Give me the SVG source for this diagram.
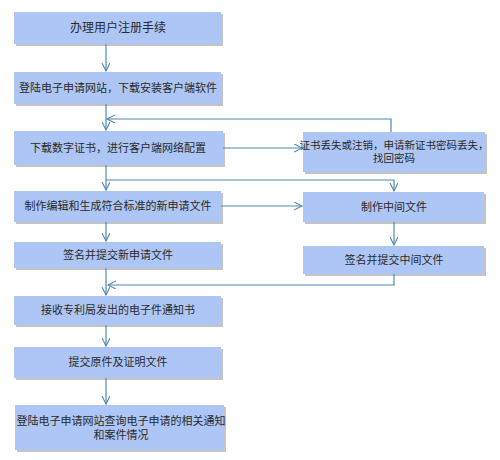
<svg xmlns="http://www.w3.org/2000/svg" width="500" height="460" viewBox="0 0 500 460">
<style>
.box{fill:#adc6f5}
.sh{fill:#c4c4c4}
.t{font-family:"Liberation Sans","Noto Sans CJK SC",sans-serif;font-size:11px;fill:#2a2a2a;text-anchor:middle}
.c{fill:none;stroke:#4f87b3;stroke-width:1.2}
</style>
<defs>
<marker id="a" markerWidth="10" markerHeight="10" refX="8" refY="4" orient="auto" markerUnits="userSpaceOnUse">
<path d="M0,0 L8,4 L0,8" fill="none" stroke="#4f87b3" stroke-width="1.1"/>
</marker>
</defs>
<rect width="500" height="460" fill="#fff"/>
<g id="n1"><rect class="sh" x="16" y="14" width="207" height="32"/><rect class="box" x="14" y="12" width="207" height="32"/><text class="t" x="118" y="32" style="font-size:12px">办理用户注册手续</text></g>
<g id="n2"><rect class="sh" x="16" y="74" width="207" height="32"/><rect class="box" x="14" y="72" width="207" height="32"/><text class="t" x="118" y="92">登陆电子申请网站，下载安装客户端软件</text></g>
<g id="n3"><rect class="sh" x="16" y="133" width="209" height="34"/><rect class="box" x="14" y="131" width="209" height="34"/><text class="t" x="118" y="152">下载数字证书，进行客户端网络配置</text></g>
<g id="n4"><rect class="sh" x="16" y="193" width="207" height="31"/><rect class="box" x="14" y="191" width="207" height="31"/><text class="t" x="118" y="210">制作编辑和生成符合标准的新申请文件</text></g>
<g id="n5"><rect class="sh" x="16" y="244" width="207" height="26"/><rect class="box" x="14" y="242" width="207" height="26"/><text class="t" x="118" y="259">签名并提交新申请文件</text></g>
<g id="n6"><rect class="sh" x="16" y="298" width="207" height="29"/><rect class="box" x="14" y="296" width="207" height="29"/><text class="t" x="118" y="314">接收专利局发出的电子件通知书</text></g>
<g id="n7"><rect class="sh" x="16" y="349" width="207" height="31"/><rect class="box" x="14" y="347" width="207" height="31"/><text class="t" x="118" y="366">提交原件及证明文件</text></g>
<g id="n8"><rect class="sh" x="17" y="407" width="209" height="45"/><rect class="box" x="15" y="405" width="209" height="45"/><text class="t" x="121" y="425">登陆电子申请网站查询电子申请的相关通知</text><text class="t" x="121" y="439">和案件情况</text></g>
<g id="nA"><rect class="sh" x="305" y="134" width="182" height="40"/><rect class="box" x="303" y="132" width="182" height="40"/><text class="t" x="394" y="149" style="font-size:10.5px">证书丢失或注销，申请新证书密码丢失，</text><text class="t" x="394" y="162" style="font-size:10.5px">找回密码</text></g>
<g id="nB"><rect class="sh" x="305" y="194" width="181" height="30"/><rect class="box" x="303" y="192" width="181" height="30"/><text class="t" x="394" y="211">制作中间文件</text></g>
<g id="nC"><rect class="sh" x="305" y="248" width="181" height="28"/><rect class="box" x="303" y="246" width="181" height="28"/><text class="t" x="394" y="264">签名并提交中间文件</text></g>
<g id="connectors">
<path class="c" d="M106,44 V71" marker-end="url(#a)"/>
<path class="c" d="M106,104 V130" marker-end="url(#a)"/>
<path class="c" d="M391,132 V119 H107" marker-end="url(#a)"/>
<path class="c" d="M223,148 H302" marker-end="url(#a)"/>
<path class="c" d="M106,165 V190" marker-end="url(#a)"/>
<path class="c" d="M106,180 H394 V191" marker-end="url(#a)"/>
<path class="c" d="M221,206 H302" marker-end="url(#a)"/>
<path class="c" d="M394,222 V245" marker-end="url(#a)"/>
<path class="c" d="M106,222 V241" marker-end="url(#a)"/>
<path class="c" d="M106,268 V295" marker-end="url(#a)"/>
<path class="c" d="M394,274 V285 H108" marker-end="url(#a)"/>
<path class="c" d="M106,325 V346" marker-end="url(#a)"/>
<path class="c" d="M106,378 V404" marker-end="url(#a)"/>
</g>
</svg>
